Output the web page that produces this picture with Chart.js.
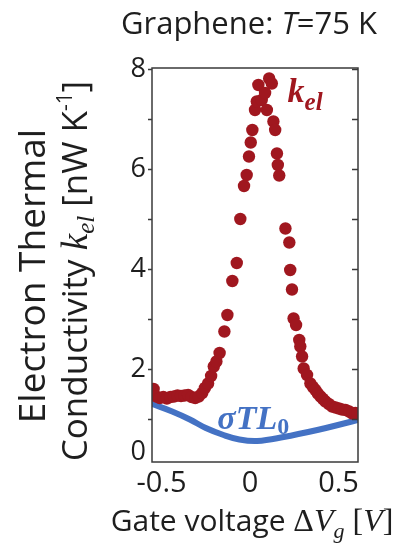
<!DOCTYPE html>
<html>
<head>
<meta charset="utf-8">
<script src="https://cdn.jsdelivr.net/npm/chart.js@4"></script>
<style>
  html, body { margin: 0; padding: 0; background: #fff; }
  canvas { display: block; }
</style>
</head>
<body>
<canvas id="chartCanvas" width="407" height="560"></canvas>
<script>
// --- data ---
const kelVoltage = [
  -0.545, -0.53, -0.51, -0.49, -0.47, -0.45, -0.43, -0.41, -0.39, -0.37,
  -0.35, -0.33, -0.31, -0.29, -0.27, -0.255, -0.237, -0.22, -0.205, -0.19,
  -0.172, -0.145, -0.128, -0.10, -0.075, -0.055, -0.034, -0.019, -0.006, 0.004,
  0.013, 0.028, 0.038, 0.047, 0.066, 0.085, 0.095, 0.108, 0.123, 0.132,
  0.142, 0.152, 0.157, 0.165, 0.20, 0.222, 0.227, 0.237, 0.246, 0.26,
  0.278, 0.284, 0.294, 0.303, 0.322, 0.341, 0.355, 0.369, 0.383, 0.398,
  0.412, 0.426, 0.445, 0.464, 0.483, 0.502, 0.52, 0.54, 0.56, 0.578,
  0.595, 0.606
];
const kelValues = [
  1.60, 1.45, 1.42, 1.44, 1.41, 1.44, 1.45, 1.47, 1.46, 1.47,
  1.48, 1.44, 1.42, 1.45, 1.52, 1.62, 1.71, 1.86, 2.05, 2.15,
  2.32, 2.75, 3.08, 3.76, 4.12, 5.00, 5.66, 5.88, 6.25, 6.53,
  6.78, 7.18, 7.35, 7.68, 7.38, 7.52, 7.18, 7.81, 7.71, 6.95,
  6.78, 6.31, 6.08, 5.87, 4.81, 4.53, 3.98, 3.59, 3.01, 2.88,
  2.58, 2.45, 2.25, 2.01, 1.88, 1.71, 1.64, 1.58, 1.51, 1.45,
  1.40, 1.35, 1.30, 1.25, 1.23, 1.21, 1.19, 1.18, 1.15, 1.11,
  1.12, 1.11
];
const sigmaVoltage = [-0.56, -0.44, -0.34, -0.25, -0.15, -0.06, 0.04, 0.19, 0.38, 0.53, 0.62];
const sigmaValues  = [1.31, 1.15, 0.99, 0.82, 0.68, 0.59, 0.56, 0.64, 0.78, 0.91, 0.99];

const xTickValues = [-0.5, 0, 0.5];
const yTickValues = [0, 2, 4, 6, 8];
const yMinorTicks = [1, 2, 3, 4, 5, 6, 7, 8];

const RED = "#a0171f";
const BLUE = "#4472c4";
const INK = "#1e1e1e";
const SANS = "'Open Sans', sans-serif";
const SERIF = "'Liberation Serif', serif";

const X_MIN = -0.554, X_MAX = 0.61;
const Y_MIN = 0.14, Y_MAX = 8.02;

// draw a row of text pieces with different fonts, centred or left aligned
function drawRuns(ctx, runs, x, y, align) {
  let total = 0;
  runs.forEach(r => { ctx.font = r.font; total += ctx.measureText(r.text).width; });
  let cx = align === "left" ? x : x - total / 2;
  runs.forEach(r => {
    ctx.font = r.font;
    ctx.fillStyle = r.color || INK;
    ctx.fillText(r.text, cx, y + (r.dy || 0));
    cx += ctx.measureText(r.text).width;
  });
}

const overlay = {
  id: "overlay",
  afterDatasetsDraw(chart) {
    const { ctx, chartArea: a, scales: { x, y } } = chart;
    ctx.save();
    ctx.textBaseline = "alphabetic";
    ctx.textAlign = "left";

    // frame
    ctx.strokeStyle = "#3a3a3a";
    ctx.lineWidth = 1.5;
    ctx.strokeRect(a.left, a.top, a.right - a.left, a.bottom - a.top);

    // y tick marks: outward on the left, inward on the right
    yMinorTicks.forEach(v => {
      const py = Math.round(y.getPixelForValue(v)) + 0.5;
      ctx.beginPath();
      ctx.moveTo(a.left - 4, py); ctx.lineTo(a.left, py);
      ctx.moveTo(a.right - 6, py); ctx.lineTo(a.right, py);
      ctx.stroke();
    });

    // curve labels
    drawRuns(ctx, [
      { text: "k", font: `bold italic 34px ${SERIF}`, color: RED },
      { text: "el", font: `bold italic 25px ${SERIF}`, color: RED, dy: 8 }
    ], x.getPixelForValue(0.212), y.getPixelForValue(7.34), "left");

    drawRuns(ctx, [
      { text: "\u03c3", font: `bold italic 34px ${SERIF}`, color: BLUE },
      { text: "TL", font: `bold italic 34px ${SERIF}`, color: BLUE },
      { text: "0", font: `bold 24px ${SERIF}`, color: BLUE, dy: 5 }
    ], x.getPixelForValue(-0.185), y.getPixelForValue(0.8), "left");

    // title
    drawRuns(ctx, [
      { text: "Graphene: ", font: `31px ${SANS}` },
      { text: "T", font: `italic 31px ${SANS}` },
      { text: "=75 K", font: `31px ${SANS}` }
    ], 249, 34);

    // x axis title
    drawRuns(ctx, [
      { text: "Gate voltage ", font: `30px ${SANS}` },
      { text: "\u0394", font: `32px ${SERIF}` },
      { text: "V", font: `italic 32px ${SERIF}` },
      { text: "g", font: `italic 22px ${SERIF}`, dy: 7 },
      { text: " [", font: `32px ${SERIF}` },
      { text: "V", font: `italic 32px ${SERIF}` },
      { text: "]", font: `32px ${SERIF}` }
    ], 252, 531);

    // y axis title, two rotated lines
    ctx.save();
    ctx.translate(45, 276);
    ctx.rotate(-Math.PI / 2);
    drawRuns(ctx, [{ text: "Electron Thermal", font: `37px ${SANS}` }], 0, 0);
    ctx.restore();

    ctx.save();
    ctx.translate(87, 271);
    ctx.rotate(-Math.PI / 2);
    drawRuns(ctx, [
      { text: "Conductivity ", font: `35px ${SANS}` },
      { text: "k", font: `italic 37px ${SERIF}` },
      { text: "el", font: `italic 25px ${SERIF}`, dy: 7 },
      { text: " [nW K", font: `35px ${SANS}` },
      { text: "-1", font: `21px ${SANS}`, dy: -15 },
      { text: "]", font: `35px ${SANS}` }
    ], 0, 0);
    ctx.restore();

    ctx.restore();
  }
};

const canvas = document.getElementById("chartCanvas");

new Chart(canvas, {
  type: "scatter",
  data: {
    datasets: [
      {
        label: "sigma T L0",
        type: "line",
        data: sigmaVoltage.map((v, i) => ({ x: v, y: sigmaValues[i] })),
        borderColor: BLUE,
        borderWidth: 6,
        pointRadius: 0,
        fill: false,
        tension: 0.4,
        order: 2
      },
      {
        label: "k_el",
        data: kelVoltage.map((v, i) => ({ x: v, y: kelValues[i] })),
        backgroundColor: RED,
        borderWidth: 0,
        pointRadius: 6.2,
        order: 1
      }
    ]
  },
  options: {
    responsive: false,
    devicePixelRatio: 1,
    animation: false,
    layout: { padding: { left: 0, top: 68, right: 49, bottom: 0 } },
    plugins: { legend: { display: false }, tooltip: { enabled: false } },
    scales: {
      x: {
        type: "linear",
        min: X_MIN,
        max: X_MAX,
        grid: { display: false, drawTicks: false },
        border: { display: false },
        afterBuildTicks: s => { s.ticks = xTickValues.map(v => ({ value: v })); },
        afterFit: s => { s.height = 98; },
        ticks: {
          color: INK,
          padding: 4,
          font: { family: SANS, size: 29 },
          callback: v => String(v)
        }
      },
      y: {
        min: Y_MIN,
        max: Y_MAX,
        grid: { display: false, drawTicks: false },
        border: { display: false },
        // the "0" label sits at the bottom of the frame in the original
        afterBuildTicks: s => { s.ticks = yTickValues.map(v => ({ value: Math.max(v, 0.34) })); },
        afterFit: s => { s.width = 152; },
        ticks: {
          color: INK,
          padding: 6,
          font: { family: SANS, size: 27 },
          callback: v => (v < 1 ? "0" : String(v))
        }
      }
    }
  },
  plugins: [overlay]
});
</script>
</body>
</html>
